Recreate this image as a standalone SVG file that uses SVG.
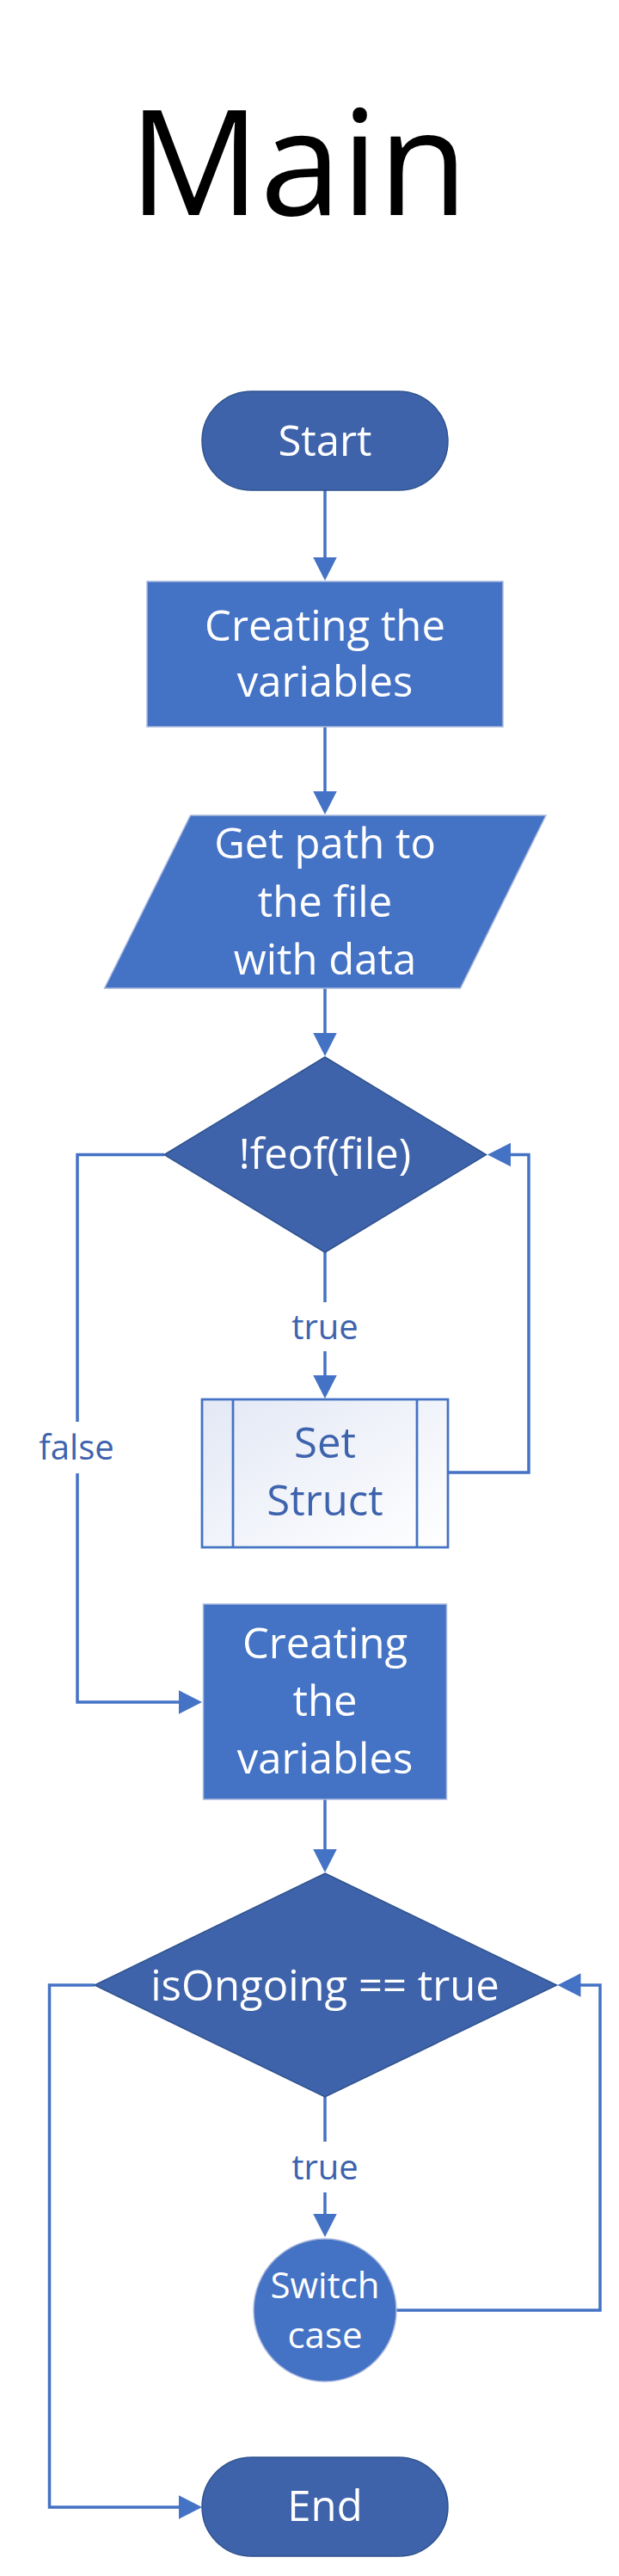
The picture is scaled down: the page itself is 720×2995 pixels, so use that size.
<svg xmlns="http://www.w3.org/2000/svg" width="720" height="2995" viewBox="0 0 720 2995">
<style>
.bg{fill:#ffffff}
.title{font-family:"Open Sans","Liberation Sans",sans-serif;font-size:170px;fill:#000000;text-anchor:middle}
.t{font-family:"Open Sans","Liberation Sans",sans-serif;font-size:49px;fill:#ffffff;text-anchor:middle}
.ts{font-family:"Open Sans","Liberation Sans",sans-serif;font-size:42px;fill:#ffffff;text-anchor:middle}
.tb{font-family:"Open Sans","Liberation Sans",sans-serif;font-size:49px;fill:#3E63AD;text-anchor:middle}
.lbl{font-family:"Open Sans","Liberation Sans",sans-serif;font-size:40px;fill:#3E63AD;text-anchor:middle}
.dark{fill:#3F63AA;stroke:#2F528F;stroke-width:1.5}
.proc{fill:#4472C4;stroke:#A9B9DD;stroke-width:1.5}
.sub{fill:url(#subGrad);stroke:#4472C4;stroke-width:2.7}
.subl{stroke:#4472C4;stroke-width:2.7;fill:none}
.c{fill:none;stroke:#4472C4;stroke-width:3.5;stroke-linejoin:miter}
.ca{fill:none;stroke:#4472C4;stroke-width:3.5;stroke-linejoin:miter;marker-end:url(#arr)}
</style>
<defs>
<marker id="arr" markerUnits="userSpaceOnUse" markerWidth="30" markerHeight="30" refX="1" refY="13.75" orient="auto" overflow="visible">
<path d="M0,0 L27,13.75 L0,27.5 Z" fill="#4472C4"/>
</marker>
<linearGradient id="subGrad" x1="0" y1="0" x2="1" y2="1">
<stop offset="0" stop-color="#E3E8F5"/>
<stop offset="1" stop-color="#FFFFFF"/>
</linearGradient>
</defs>
<rect class="bg" x="0" y="0" width="720" height="2995"/>
<text class="title" x="347" y="250">Main</text>

<g id="connectors">
<path class="ca" d="M378,570 L378,649"/>
<path class="ca" d="M378,845 L378,921"/>
<path class="ca" d="M378,1149 L378,1202"/>
<path class="c" d="M378,1456 L378,1514"/>
<path class="ca" d="M378,1571 L378,1600"/>
<path class="ca" d="M521,1712 L615,1712 L615,1342.5 L593,1342.5"/>
<path class="c" d="M191,1342.5 L90,1342.5 L90,1653"/>
<path class="ca" d="M90,1713 L90,1979 L209,1979"/>
<path class="ca" d="M378,2092 L378,2151"/>
<path class="c" d="M378,2438 L378,2490"/>
<path class="ca" d="M378,2549 L378,2575"/>
<path class="ca" d="M461,2686 L698,2686 L698,2308 L674.5,2308"/>
<path class="ca" d="M110,2308 L57.5,2308 L57.5,2915 L209,2915"/>
<text class="lbl" x="378" y="1557">true</text>
<text class="lbl" x="89" y="1697">false</text>
<text class="lbl" x="378" y="2534">true</text>
</g>

<g id="start">
<rect class="dark" x="235" y="455" width="286" height="115" rx="57.5" ry="57.5"/>
<text class="t" x="378" y="530">Start</text>
</g>

<g id="create1">
<rect class="proc" x="171" y="676" width="414" height="169"/>
<text class="t" x="378" y="745">Creating the</text>
<text class="t" x="378" y="810">variables</text>
</g>

<g id="getpath">
<polygon class="proc" points="221.5,948 635,948 535.5,1149 121.5,1149"/>
<text class="t" x="378" y="998">Get path to</text>
<text class="t" x="378" y="1066">the file</text>
<text class="t" x="378" y="1133">with data</text>
</g>

<g id="feof">
<polygon class="dark" points="378,1229 565.5,1342.5 378,1456 191,1342.5"/>
<text class="t" x="378" y="1359">!feof(file)</text>
</g>

<g id="setstruct">
<rect class="sub" x="235" y="1627" width="286" height="172"/>
<line class="subl" x1="271" y1="1627" x2="271" y2="1799"/>
<line class="subl" x1="485" y1="1627" x2="485" y2="1799"/>
<text class="tb" x="378" y="1695">Set</text>
<text class="tb" x="378" y="1762">Struct</text>
</g>

<g id="create2">
<rect class="proc" x="236.5" y="1865" width="283" height="227"/>
<text class="t" x="378" y="1928">Creating</text>
<text class="t" x="378" y="1995">the</text>
<text class="t" x="378" y="2062">variables</text>
</g>

<g id="ongoing">
<polygon class="dark" points="378,2178 647.5,2308 378,2438 110,2308"/>
<text class="t" x="378" y="2326">isOngoing == true</text>
</g>

<g id="switch">
<circle class="proc" cx="378" cy="2686" r="83"/>
<text class="ts" x="378" y="2672">Switch</text>
<text class="ts" x="378" y="2730">case</text>
</g>

<g id="end">
<rect class="dark" x="235" y="2857" width="286" height="115" rx="57.5" ry="57.5"/>
<text class="t" x="378" y="2931">End</text>
</g>
</svg>
